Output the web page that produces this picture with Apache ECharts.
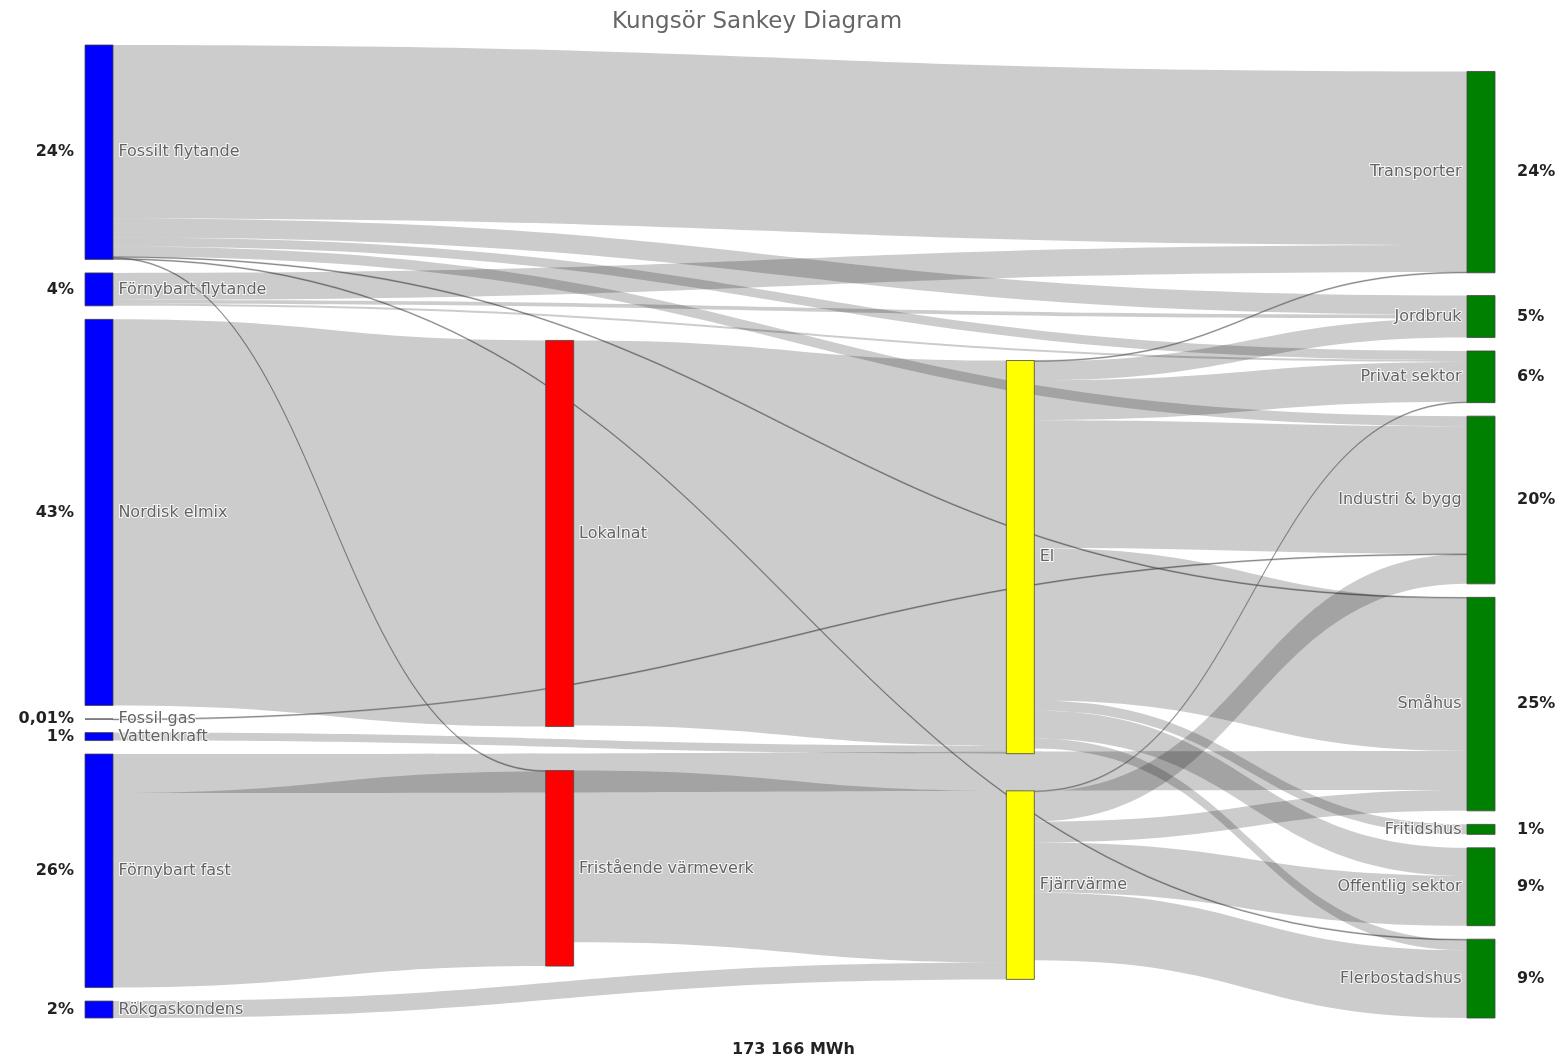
<!DOCTYPE html>
<html>
<head>
<meta charset="utf-8">
<title>Kungsör Sankey Diagram</title>
<script src="https://cdn.jsdelivr.net/npm/echarts@6/dist/echarts.min.js"></script>
<style>
  html, body { margin: 0; padding: 0; background: #fff; }
  #chart { width: 1564px; height: 1060px; }
</style>
</head>
<body>
<div id="chart"></div>
<script>
// noder, kolumn for kolumn
var sourceNodes = ['Fossilt flytande', 'Förnybart flytande', 'Nordisk elmix', 'Fossil gas', 'Vattenkraft', 'Förnybart fast', 'Rökgaskondens'];
var stepNodes = ['Lokalnat', 'Fristående värmeverk'];
var carrierNodes = ['El', 'Fjärrvärme'];
var useNodes = ['Transporter', 'Jordbruk', 'Privat sektor', 'Industri & bygg', 'Småhus', 'Fritidshus', 'Offentlig sektor', 'Flerbostadshus'];

// flöden (MWh)
var linkSource = [
  'Fossilt flytande', 'Fossilt flytande', 'Fossilt flytande', 'Fossilt flytande',
  'Fossilt flytande', 'Fossilt flytande', 'Fossilt flytande',
  'Förnybart flytande', 'Förnybart flytande', 'Förnybart flytande',
  'Nordisk elmix', 'Fossil gas', 'Vattenkraft',
  'Förnybart fast', 'Förnybart fast',
  'Rökgaskondens',
  'Lokalnat', 'Fristående värmeverk',
  'El', 'El', 'El', 'El', 'El', 'El', 'El', 'El',
  'Fjärrvärme', 'Fjärrvärme', 'Fjärrvärme', 'Fjärrvärme', 'Fjärrvärme'
];
var linkTarget = [
  'Transporter', 'Jordbruk', 'Privat sektor', 'Industri & bygg',
  'Småhus', 'Fristående värmeverk', 'Flerbostadshus',
  'Transporter', 'Jordbruk', 'Privat sektor',
  'Lokalnat', 'Industri & bygg', 'El',
  'Småhus', 'Fristående värmeverk',
  'Fjärrvärme',
  'El', 'Fjärrvärme',
  'Transporter', 'Jordbruk', 'Privat sektor', 'Industri & bygg', 'Småhus', 'Fritidshus', 'Offentlig sektor', 'Flerbostadshus',
  'Privat sektor', 'Industri & bygg', 'Småhus', 'Offentlig sektor', 'Flerbostadshus'
];
var linkValue = [
  33700, 3680, 1740, 1940,
  190, 190, 190,
  5230, 770, 390,
  74960, 17, 1550,
  7560, 37769,
  3290,
  74770, 33320,
  150, 3680, 7750, 24790, 29630, 1940, 5420, 1940,
  150, 5810, 4070, 9690, 13170
];

var columnColors = ['#0000ff', '#ff0000', '#ffff00', '#008000'];
var columns = [sourceNodes, stepNodes, carrierNodes, useNodes];

function sumLinks(name, key) {
  var list = key === 'out' ? linkSource : linkTarget;
  var s = 0;
  for (var i = 0; i < list.length; i++) {
    if (list[i] === name) s += linkValue[i];
  }
  return s;
}

var supplyTotal = 0;
sourceNodes.forEach(function (n) { supplyTotal += sumLinks(n, 'out'); });
var useTotal = 0;
useNodes.forEach(function (n) { useTotal += sumLinks(n, 'in'); });

function pctText(v, total) {
  var p = v / total * 100;
  if (p < 0.5) return p.toFixed(2).replace('.', ',') + '%';
  return Math.round(p) + '%';
}

function formatMWh(v) {
  return String(Math.round(v)).replace(/\B(?=(\d{3})+(?!\d))/g, ' ') + ' MWh';
}

var nameFont = 'DejaVu Sans';

// noder med namnetiketter
var nodes = [];
// osynliga noder som bara bär procentetiketterna
var pctNodes = [];
columns.forEach(function (col, c) {
  col.forEach(function (name) {
    var isLast = c === columns.length - 1;
    nodes.push({
      name: name,
      itemStyle: { color: columnColors[c] },
      label: { position: isLast ? 'left' : 'right' }
    });
    var pct = null;
    if (c === 0) pct = pctText(sumLinks(name, 'out'), supplyTotal);
    if (isLast) pct = pctText(sumLinks(name, 'in'), useTotal);
    pctNodes.push({
      name: name,
      label: pct === null ? { show: false } : {
        show: true,
        position: isLast ? 'right' : 'left',
        distance: isLast ? 22 : 11,
        formatter: pct
      }
    });
  });
});

var links = [];
var hiddenLinks = [];
for (var i = 0; i < linkValue.length; i++) {
  var link = { source: linkSource[i], target: linkTarget[i], value: linkValue[i] };
  // mycket små flöden syns som tunna linjer
  if (linkValue[i] < 300) {
    link.lineStyle = { color: '#555', opacity: 0.6, borderColor: '#555', borderWidth: 0.5 };
  }
  links.push(link);
  hiddenLinks.push({ source: linkSource[i], target: linkTarget[i], value: linkValue[i] });
}

var layoutBox = {
  left: 85,
  right: 69,
  top: 45,
  bottom: 42,
  nodeWidth: 28,
  nodeGap: 13.5,
  layoutIterations: 50,
  nodeAlign: 'justify',
  draggable: false
};

var mainSeries = Object.assign({
  type: 'sankey',
  data: nodes,
  links: links,
  emphasis: { disabled: true },
  itemStyle: { borderColor: '#444', borderWidth: 0.8 },
  lineStyle: { color: '#000', opacity: 0.2, curveness: 0.5 },
  label: {
    show: true,
    color: '#636363',
    fontFamily: nameFont,
    fontSize: 16,
    distance: 5,
    textBorderColor: 'rgba(255,255,255,0.85)',
    textBorderWidth: 2
  }
}, layoutBox);

var pctSeries = Object.assign({
  type: 'sankey',
  data: pctNodes,
  links: hiddenLinks,
  silent: true,
  emphasis: { disabled: true },
  itemStyle: { color: 'transparent', borderWidth: 0 },
  lineStyle: { opacity: 0 },
  label: {
    color: '#222',
    fontFamily: nameFont,
    fontSize: 16,
    fontWeight: 'bold'
  }
}, layoutBox);

var chart = echarts.init(document.getElementById('chart'));
chart.setOption({
  animation: false,
  backgroundColor: '#fff',
  title: [{
    text: 'Kungsör Sankey Diagram',
    left: 607,
    top: 6,
    textStyle: { fontFamily: nameFont, fontSize: 23, fontWeight: 'normal', color: '#666' }
  }, {
    text: formatMWh(supplyTotal),
    left: 727,
    top: 1037,
    textStyle: { fontFamily: nameFont, fontSize: 16, fontWeight: 'bold', color: '#222' }
  }],
  series: [mainSeries, pctSeries]
});
</script>
</body>
</html>
